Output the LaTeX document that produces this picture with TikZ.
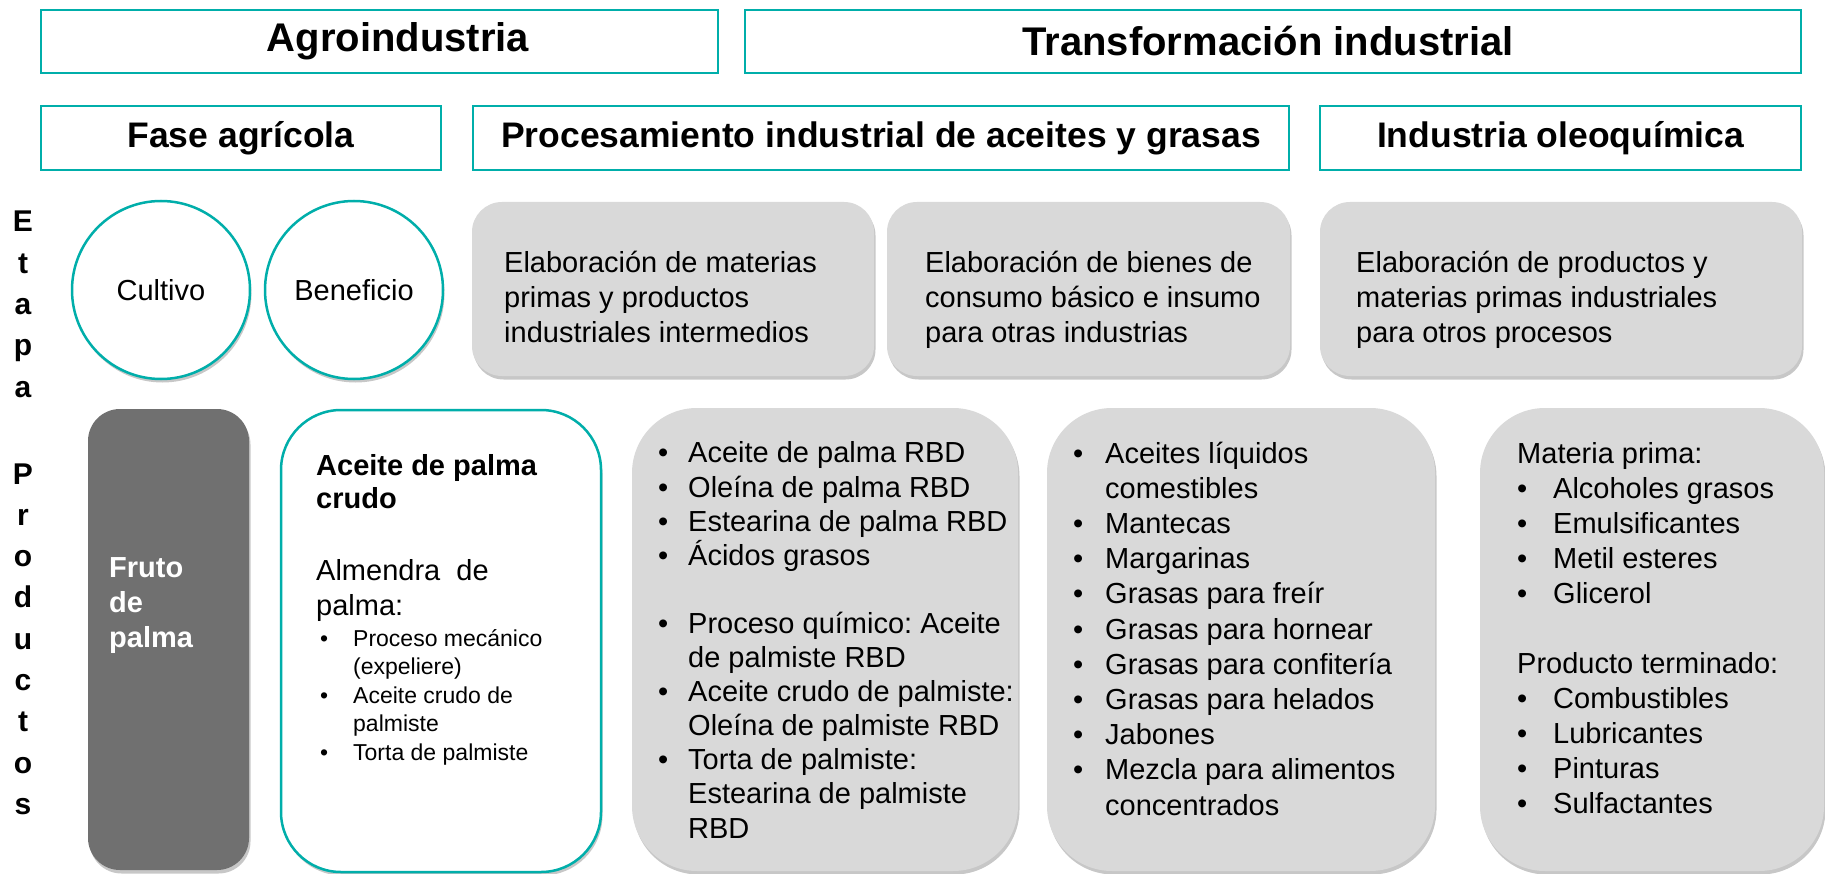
\documentclass[tikz,border=0pt]{standalone}
\usepackage{fontspec}
\setmainfont{Liberation Sans}
\usetikzlibrary{shadows}
\definecolor{teal1}{RGB}{0,174,170}
\definecolor{lgray}{RGB}{217,217,217}
\definecolor{dgray}{RGB}{112,112,112}
\newcommand\fsz[2]{\fontsize{#1}{#2}\selectfont}
\newcommand\bul[1]{\makebox[#1][l]{\textbullet}}
\frenchspacing
\begin{document}
\begin{tikzpicture}[x=1pt,y=-1pt,
  shd/.style={drop shadow={shadow xshift=1.5pt, shadow yshift=-3.5pt, opacity=0.22, fill=black}},
  hdr/.style={draw=teal1, line width=2.5pt, inner sep=0pt, minimum height=63pt},
  hdrtxt/.style={inner sep=0pt, font=\bfseries\fsz{40}{47}},
  subhdr/.style={draw=teal1, line width=2.5pt, inner sep=0pt, minimum height=64pt, font=\bfseries\fsz{35.5}{41}},
  circ/.style={circle, draw=teal1, line width=2.5pt, fill=white, shd, minimum size=178pt, inner sep=0pt, font=\fsz{29}{35}},
  stage/.style={rounded corners=30pt, fill=lgray, shd, minimum height=174pt, inner sep=0pt},
  prod/.style={rounded corners=65pt, fill=lgray, shd, minimum height=463pt, inner sep=0pt},
  txt/.style={anchor=base west, align=left, inner sep=0pt, font=\fsz{29}{35}},
  vert/.style={anchor=base, align=center, inner sep=0pt, font=\bfseries\fsz{30}{41.3}}
]
\useasboundingbox (0,0) rectangle (1825,874);
\fill[white] (0,0) rectangle (1825,874);

% headers
\node[hdr, minimum width=677pt] (agro) at (379.5,41.5) {};
\node[hdrtxt] (agrot) at (398,41.5) {Agroindustria};
\node[hdr, minimum width=1056pt] (trans) at (1273,41.5) {};
\node[hdrtxt] (transt) at (1268,41.5) {Transformación industrial};
\node[subhdr, minimum width=400pt] (fase) at (241,138) {Fase agrícola};
\node[subhdr, minimum width=816pt] (proc) at (881,138) {Procesamiento industrial de aceites y grasas};
\node[subhdr, minimum width=481pt] (ind) at (1560.5,138) {Industria oleoquímica};

% vertical labels (base = last line)
\node[vert] (etapa) at (23,397) {E\\t\\a\\p\\a};
\node[vert] (productos) at (23,814.4) {P\\r\\o\\d\\u\\c\\t\\o\\s};

% stage row
\node[circ] (cultivo) at (161,290) {Cultivo};
\node[circ] (beneficio) at (354,290) {Beneficio};
\node[stage, minimum width=402pt] (g1) at (673,289) {};
\node[stage, minimum width=403pt] (g2) at (1088.5,289) {};
\node[stage, minimum width=482pt] (g3) at (1561,289) {};
\node[txt] (g1t) at (504,342) {Elaboración de materias\\primas y productos\\industriales intermedios};
\node[txt] (g2t) at (925,342) {Elaboración de bienes de\\consumo básico e insumo\\para otras industrias};
\node[txt] (g3t) at (1356,342) {Elaboración de productos y\\materias primas industriales\\para otros procesos};

% products row
\node[rounded corners=32pt, fill=dgray, shd, minimum width=161pt, minimum height=461pt, inner sep=0pt] (fruto) at (168.5,639.5) {};
\node[txt, text=white, font=\bfseries\fsz{29}{35}] (frutot) at (109,647) {Fruto\\de\\palma};

\node[rounded corners=60pt, draw=teal1, line width=2.5pt, fill=white, shd, minimum width=320pt, minimum height=462pt, inner sep=0pt] (crudo) at (441,641) {};
\node[txt, font=\bfseries\fsz{29}{33}] (crudot) at (316,508) {Aceite de palma\\crudo};
\node[txt] (almt) at (316,615) {Almendra\ \ de\\palma:};
\node[txt, font=\fsz{23}{28.5}] (almlist) at (320,760) {\bul{33pt}Proceso mecánico\\\hspace*{33pt}(expeliere)\\\bul{33pt}Aceite crudo de\\\hspace*{33pt}palmiste\\\bul{33pt}Torta de palmiste};

\node[prod, minimum width=386pt] (pa) at (825,639.5) {};
\node[prod, minimum width=388pt] (pb) at (1241,639.5) {};
\node[prod, minimum width=344pt] (pc) at (1652,639.5) {};

\node[txt, font=\fsz{29}{34.1}] (pat) at (658,838) {\bul{30pt}Aceite de palma RBD\\\bul{30pt}Oleína de palma RBD\\\bul{30pt}Estearina de palma RBD\\\bul{30pt}Ácidos grasos\\[34.1pt]\bul{30pt}Proceso químico: Aceite\\\hspace*{30pt}de palmiste RBD\\\bul{30pt}Aceite crudo de palmiste:\\\hspace*{30pt}Oleína de palmiste RBD\\\bul{30pt}Torta de palmiste:\\\hspace*{30pt}Estearina de palmiste\\\hspace*{30pt}RBD};

\node[txt, font=\fsz{29}{35.2}] (pbt) at (1073,815) {\bul{32pt}Aceites líquidos\\\hspace*{32pt}comestibles\\\bul{32pt}Mantecas\\\bul{32pt}Margarinas\\\bul{32pt}Grasas para freír\\\bul{32pt}Grasas para hornear\\\bul{32pt}Grasas para confitería\\\bul{32pt}Grasas para helados\\\bul{32pt}Jabones\\\bul{32pt}Mezcla para alimentos\\\hspace*{32pt}concentrados};

\node[txt, font=\fsz{29}{35}] (pct) at (1517,813) {Materia prima:\\\bul{36pt}Alcoholes grasos\\\bul{36pt}Emulsificantes\\\bul{36pt}Metil esteres\\\bul{36pt}Glicerol\\[35pt]Producto terminado:\\\bul{36pt}Combustibles\\\bul{36pt}Lubricantes\\\bul{36pt}Pinturas\\\bul{36pt}Sulfactantes};
\end{tikzpicture}
\end{document}
